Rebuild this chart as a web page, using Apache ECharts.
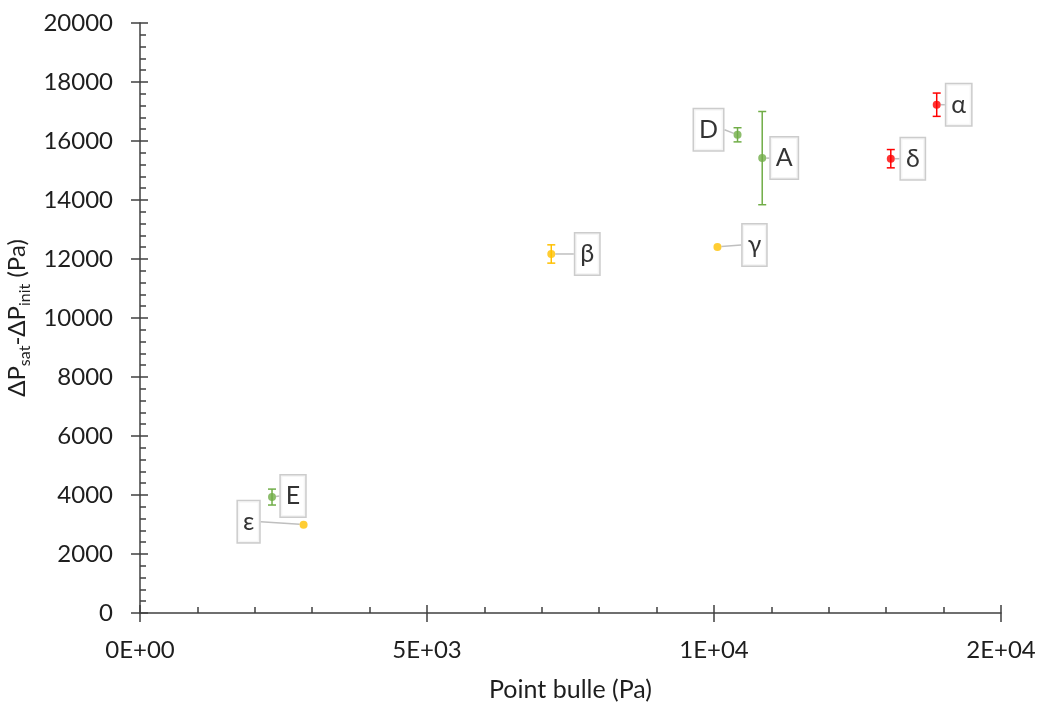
<!DOCTYPE html>
<html>
<head>
<meta charset="utf-8">
<script src="https://cdn.jsdelivr.net/npm/echarts@6/dist/echarts.min.js"></script>
<style>html,body{margin:0;padding:0;background:#fff;}#c{width:1041px;height:704px;}</style>
</head>
<body>
<div id="c"></div>
<script>
// ---- data ----
const redNames = ['α', 'δ'];
const redX = [13880, 13080];
const redY = [17230, 15400];
const redErr = [395, 310];

const greenNames = ['D', 'A', 'E'];
const greenX = [10410, 10840, 2300];
const greenY = [16210, 15420, 3930];
const greenErr = [240, 1580, 270];

const yellowNames = ['β', 'γ', 'ε'];
const yellowX = [7165, 10060, 2850];
const yellowY = [12170, 12410, 2995];
const yellowErr = [310, 0, 0];

const xTickValues = [0, 5000, 10000, 15000];
const xTickLabels = ['0E+00', '5E+03', '1E+04', '2E+04'];
const yTickLabels = ['0', '2000', '4000', '6000', '8000', '10000', '12000', '14000', '16000', '18000', '20000'];

// label offsets (pixels) – layout only
const redOffsets = [[22, 0], [22, 0]];
const greenOffsets = [[-29, -5], [22, 0], [21, -1]];
const yellowOffsets = [[36, 0], [37, -2], [-55, -3]];

const FONT = 'Lato, "Open Sans", sans-serif';
const TXT = '#1e1e1e';
const AX = '#404040';

function pts(xs, ys, names) { return xs.map((x, i) => ({ value: [x, ys[i]], name: names[i] })); }
function errs(xs, ys, es) { return xs.map((x, i) => [x, ys[i], es[i]]); }

function errSeries(data, color) {
  return {
    type: 'custom', xAxisIndex: 0, yAxisIndex: 0, silent: true, z: 3,
    data: data,
    renderItem: function (params, api) {
      const x = api.value(0), y = api.value(1), e = api.value(2);
      if (!e) return;
      const top = api.coord([x, y + e]);
      const bot = api.coord([x, y - e]);
      const w = 4;
      const st = { stroke: color, lineWidth: 1.5 };
      return {
        type: 'group',
        children: [
          { type: 'line', shape: { x1: top[0], y1: top[1], x2: bot[0], y2: bot[1] }, style: st },
          { type: 'line', shape: { x1: top[0] - w, y1: top[1], x2: top[0] + w, y2: top[1] }, style: st },
          { type: 'line', shape: { x1: bot[0] - w, y1: bot[1], x2: bot[0] + w, y2: bot[1] }, style: st }
        ]
      };
    }
  };
}

function scatterSeries(data, color, offsets) {
  return {
    type: 'scatter', xAxisIndex: 0, yAxisIndex: 0, z: 4,
    symbol: 'circle', symbolSize: 8,
    itemStyle: { color: color },
    data: data,
    label: {
      show: true, position: 'inside',
      formatter: '{b}',
      fontFamily: FONT, fontSize: 25, color: '#000',
      backgroundColor: '#fff', borderColor: '#bfbfbf', borderWidth: 1.5,
      padding: [8, 5, 8, 5], lineHeight: 25
    },
    labelLine: { show: true, lineStyle: { color: '#bfbfbf', width: 1.5 } },
    labelLayout: function (p) {
      const o = offsets[p.dataIndex];
      return { dx: o[0], dy: o[1] };
    }
  };
}

const chart = echarts.init(document.getElementById('c'), null, { renderer: 'canvas' });

const xBase = { type: 'value', min: 0, max: 15000, interval: 5000, gridIndex: 0, position: 'bottom', offset: 0 };
const yBase = { type: 'value', min: 0, max: 20000, interval: 2000, gridIndex: 0, position: 'left', offset: 0 };

chart.setOption({
  animation: false,
  backgroundColor: '#fff',
  grid: { left: 140, right: 40, top: 23, bottom: 91, containLabel: false, outerBoundsMode: 'none' },
  xAxis: [
    Object.assign({}, xBase, {
      name: 'Point bulle (Pa)', nameLocation: 'middle', nameGap: 64,
      nameTextStyle: { fontFamily: FONT, fontSize: 25, color: TXT },
      axisLine: { show: true, onZero: false, lineStyle: { color: AX, width: 1.5 } },
      axisTick: { show: true, inside: false, length: 9, lineStyle: { color: AX, width: 1.5 } },
      axisLabel: {
        fontFamily: FONT, fontSize: 24, color: TXT, margin: 25,
        formatter: function (v) { const i = xTickValues.indexOf(v); return i >= 0 ? xTickLabels[i] : ''; }
      },
      splitLine: { show: false }
    }),
    Object.assign({}, xBase, {
      axisLine: { show: false, onZero: false },
      axisTick: { show: true, inside: true, length: 8, lineStyle: { color: AX, width: 1.5 } },
      minorTick: { show: true, splitNumber: 5, length: 6, lineStyle: { color: AX, width: 1.5 } },
      axisLabel: { show: false },
      splitLine: { show: false }
    })
  ],
  yAxis: [
    Object.assign({}, yBase, {
      name: '{n|ΔP}{s|sat}{n|-ΔP}{s|init}{n| (Pa)}',
      nameLocation: 'middle', nameGap: 104, nameRotate: 90,
      nameTextStyle: {
        fontFamily: FONT, fontSize: 24, color: TXT,
        rich: {
          n: { fontFamily: FONT, fontSize: 24, color: TXT, lineHeight: 30, verticalAlign: 'middle' },
          s: { fontFamily: FONT, fontSize: 16, color: TXT, lineHeight: 16, verticalAlign: 'bottom' }
        }
      },
      axisLine: { show: true, onZero: false, lineStyle: { color: AX, width: 1.5 } },
      axisTick: { show: true, inside: false, length: 9, lineStyle: { color: AX, width: 1.5 } },
      axisLabel: {
        fontFamily: FONT, fontSize: 24, color: TXT, margin: 27,
        formatter: function (v) { return yTickLabels[Math.round(v / 2000)]; }
      },
      splitLine: { show: false }
    }),
    Object.assign({}, yBase, {
      axisLine: { show: false, onZero: false },
      axisTick: { show: true, inside: true, length: 8, lineStyle: { color: AX, width: 1.5 } },
      minorTick: { show: true, splitNumber: 5, length: 6, lineStyle: { color: AX, width: 1.5 } },
      axisLabel: { show: false },
      splitLine: { show: false }
    })
  ],
  series: [
    errSeries(errs(redX, redY, redErr), '#FF0000'),
    errSeries(errs(greenX, greenY, greenErr), '#70AD47'),
    errSeries(errs(yellowX, yellowY, yellowErr), '#FFC000'),
    scatterSeries(pts(redX, redY, redNames), '#FF0000', redOffsets),
    scatterSeries(pts(greenX, greenY, greenNames), '#70AD47', greenOffsets),
    scatterSeries(pts(yellowX, yellowY, yellowNames), '#FFC000', yellowOffsets)
  ]
});
</script>
</body>
</html>
